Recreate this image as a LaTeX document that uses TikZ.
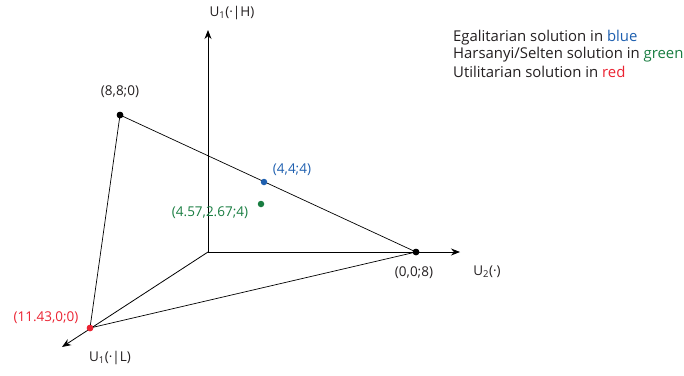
\documentclass[tikz,border=0pt]{standalone}
\usepackage{fontspec}
\setmainfont{Open Sans}
\usetikzlibrary{arrows.meta}
\definecolor{egblue}{RGB}{30,95,175}
\definecolor{hsgreen}{RGB}{25,125,65}
\definecolor{utred}{RGB}{235,35,50}
\definecolor{txt}{RGB}{35,31,32}
\begin{document}
\begin{tikzpicture}[x=1pt,y=-1pt,
  every node/.style={font=\fontsize{13.5}{16}\selectfont, text=txt},
  axis/.style={line width=0.8pt, -{Stealth[length=9pt,width=7pt]}},
  edge/.style={line width=0.7pt},
  dot/.style={circle, fill=#1, inner sep=0pt, minimum size=6.5pt},
  lbl/.style={inner sep=1pt},
  leg/.style={inner sep=1pt, anchor=west, font=\fontsize{14.9}{18}\selectfont}]
\useasboundingbox (0,0) rectangle (684,375);
% axes
\coordinate (O) at (208,252);
\coordinate (yt) at (208,30);
\coordinate (xt) at (460,252);
\coordinate (zt) at (62,347);
\draw[axis] (O) -- (yt);
\draw[axis] (O) -- (xt);
\draw[axis] (O) -- (zt);
% vertices
\node[dot=black] (A) at (120,115) {};
\node[dot=black] (B) at (416,252) {};
\node[dot=utred] (C) at (90,328) {};
\draw[edge] (A.center) -- (B.center) -- (C.center) -- cycle;
\node[dot=black] at (120,115) {};
\node[dot=black] at (416,252) {};
\node[dot=utred] at (90,328) {};
\node[dot=egblue] (E) at (264,182) {};
\node[dot=hsgreen] (H) at (261,204) {};
% labels
\node[lbl] (lyt) at (232,13) {U\textsubscript{1}(·|H)};
\node[lbl] (lA) at (120,92) {(8,8;0)};
\node[lbl, text=egblue] (lE) at (292,170) {(4,4;4)};
\node[lbl, text=hsgreen] (lH) at (210,213) {(4.57,2.67;4)};
\node[lbl] (lB) at (414,273) {(0,0;8)};
\node[lbl] (lxt) at (487,272) {U\textsubscript{2}(·)};
\node[lbl, text=utred] (lC) at (46,318) {(11.43,0;0)};
\node[lbl] (lzt) at (110,358) {U\textsubscript{1}(·|L)};
% legend
\node[leg] (g1) at (452,38) {Egalitarian solution in \textcolor{egblue}{blue}};
\node[leg] (g2) at (452,55) {Harsanyi/Selten solution in \textcolor{hsgreen}{green}};
\node[leg] (g3) at (452,72) {Utilitarian solution in \textcolor{utred}{red}};
\end{tikzpicture}
\end{document}
